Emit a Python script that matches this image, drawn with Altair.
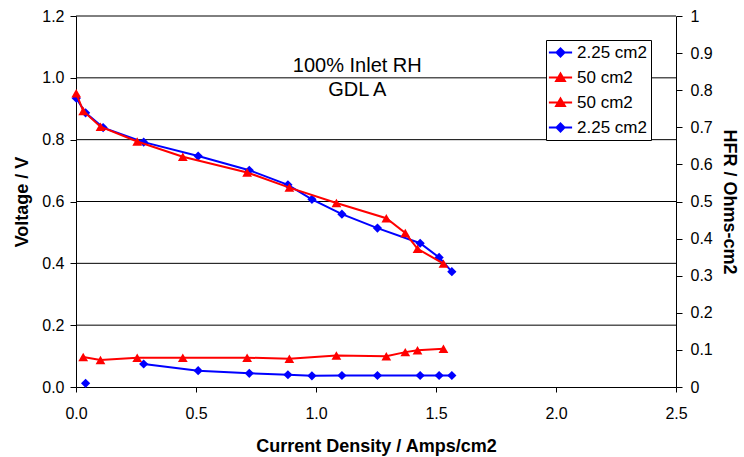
import altair as alt
import pandas as pd

# ---- data ----
x_blue = [0.001, 0.040, 0.113, 0.282, 0.509, 0.722, 0.883, 0.983, 1.108, 1.256, 1.434, 1.513, 1.566]
v_blue = [0.934, 0.887, 0.839, 0.792, 0.747, 0.701, 0.654, 0.607, 0.559, 0.514, 0.465, 0.419, 0.373]
hfr_blue = [None, 0.010, None, 0.062, 0.044, 0.037, 0.033, 0.030, 0.031, 0.031, 0.031, 0.031, 0.031]

x_red = [0.001, 0.030, 0.102, 0.255, 0.445, 0.713, 0.889, 1.085, 1.293, 1.372, 1.423, 1.531]
v_red = [0.950, 0.893, 0.842, 0.794, 0.745, 0.694, 0.645, 0.595, 0.546, 0.498, 0.447, 0.399]
hfr_red = [None, 0.081, 0.073, 0.079, 0.079, 0.079, 0.076, 0.085, 0.083, 0.094, 0.099, 0.103]

legend_keys = ["k1", "k2", "k3", "k4"]
legend_labels = ["2.25 cm2", "50 cm2", "50 cm2", "2.25 cm2"]
legend_colors = ["#0000FF", "#FF0000", "#FF0000", "#0000FF"]

x_ticks = [0.0, 0.5, 1.0, 1.5, 2.0, 2.5]
v_ticks = [0.0, 0.2, 0.4, 0.6, 0.8, 1.0, 1.2]
h_ticks = [0, 0.1, 0.2, 0.3, 0.4, 0.5, 0.6, 0.7, 0.8, 0.9, 1]
grid_values = [0.2, 0.4, 0.6, 0.8, 1.0, 1.2]

note_text = ["100% Inlet RH", "GDL A"]
note_x = [1.172, 1.172]
note_y = [1.039, 0.961]

BLUE = "#0000FF"
RED = "#FF0000"
FONT = "Liberation Sans"


def hfr_frame(xs, hs):
    rows, seg = [], 0
    for xv, hv in zip(xs, hs):
        if hv is None:
            seg += 1
            continue
        rows.append({"x": xv, "h": hv, "seg": seg})
    return pd.DataFrame(rows)


pol_blue = pd.DataFrame({"x": x_blue, "v": v_blue})
pol_red = pd.DataFrame({"x": x_red, "v": v_red})
hf_blue = hfr_frame(x_blue, hfr_blue)
hf_red = hfr_frame(x_red, hfr_red)
grid_df = pd.DataFrame({"v": grid_values})
note_df = pd.DataFrame({"x": note_x, "v": note_y, "t": note_text})
leg_df = pd.DataFrame({"key": legend_keys})

x_scale = alt.Scale(domain=[0, 2.5], nice=False, zero=False)
v_scale = alt.Scale(domain=[0, 1.2], nice=False, zero=False)
h_scale = alt.Scale(domain=[0, 1], nice=False, zero=False)

x_axis = alt.Axis(values=x_ticks, format=".1f", title="Current Density / Amps/cm2",
                  grid=False, tickSize=5, labelPadding=13, titlePadding=16,
                  labelFlush=False, labelOverlap=False)
v_axis = alt.Axis(values=v_ticks, format=".1f", title="Voltage / V", grid=False,
                  orient="left", tickSize=6, labelPadding=6, titlePadding=10,
                  labelOverlap=False)
h_axis = alt.Axis(values=h_ticks, format="~g", title="HFR / Ohms-cm2", grid=False,
                  orient="right", tickSize=6, labelPadding=8, titlePadding=7,
                  labelOverlap=False)

X = alt.X("x:Q", scale=x_scale, axis=x_axis)
YV = alt.Y("v:Q", scale=v_scale, axis=v_axis)
YH = alt.Y("h:Q", scale=h_scale, axis=h_axis)

grid = alt.Chart(grid_df).mark_rule(color="black", strokeWidth=1).encode(y=YV)


def series(df, y, color, shape, size, detail=None):
    enc = dict(x=X, y=y)
    if detail is not None:
        enc["detail"] = detail
    return alt.Chart(df).mark_line(
        color=color, strokeWidth=2,
        point=alt.OverlayMarkDef(shape=shape, size=size, filled=True, color=color, opacity=1),
    ).encode(**enc)


blue_v = series(pol_blue, YV, BLUE, "diamond", 85)
red_v = series(pol_red, YV, RED, "triangle-up", 95)
blue_h = series(hf_blue, YH, BLUE, "diamond", 85, detail="seg:N")
red_h = series(hf_red, YH, RED, "triangle-up", 95, detail="seg:N")

notes = alt.Chart(note_df).mark_text(fontSize=20, font=FONT, color="black").encode(
    x=X, y=YV, text="t:N")

label_expr = " : ".join(
    f"datum.label == '{k}' ? '{l}'" for k, l in zip(legend_keys, legend_labels)
) + " : ''"
legend_paths = [
    "M-2.9,0H2.9M0,-1L1,0L0,1L-1,0Z",
    "M-2.9,0H2.9M0,-1L1.1,0.9L-1.1,0.9Z",
    "M-2.9,0H2.9M0,-1L1.1,0.9L-1.1,0.9Z",
    "M-2.9,0H2.9M0,-1L1,0L0,1L-1,0Z",
]
leg_def = alt.Legend(
    title=None, orient="none", legendX=470, legendY=24, labelExpr=label_expr,
    strokeColor="black", fillColor="white", padding=4, rowPadding=7,
    symbolOffset=2, labelOffset=8, labelFontSize=17, labelFont=FONT,
    labelColor="black", symbolStrokeWidth=2, symbolSize=64, cornerRadius=0,
)
legend_layer = alt.Chart(leg_df).mark_point(filled=True, size=64, strokeWidth=2, opacity=1).encode(
    shape=alt.Shape("key:N", scale=alt.Scale(domain=legend_keys, range=legend_paths), legend=leg_def),
    fill=alt.Fill("key:N", scale=alt.Scale(domain=legend_keys, range=legend_colors), legend=leg_def),
    stroke=alt.Stroke("key:N", scale=alt.Scale(domain=legend_keys, range=legend_colors), legend=leg_def),
).transform_filter("false")

left_group = alt.layer(grid, blue_v, red_v, notes, legend_layer)
right_group = alt.layer(blue_h, red_h)

chart = alt.layer(left_group, right_group).resolve_scale(y="independent").properties(
    width=600, height=371,
    background="white",
    autosize=alt.AutoSizeParams(type="none"),
    padding={"left": 76, "top": 16, "right": 68, "bottom": 70},
).configure_view(stroke=None).configure_axis(
    domainColor="black", tickColor="black", labelColor="black", titleColor="black",
    labelFont=FONT, titleFont=FONT, labelFontSize=16, titleFontSize=18,
    titleFontWeight="bold", domainWidth=1, tickWidth=1,
).configure_legend(labelFontSize=17, labelFont=FONT)

chart.save("out.html", embed_options={"renderer": "svg", "actions": False})
